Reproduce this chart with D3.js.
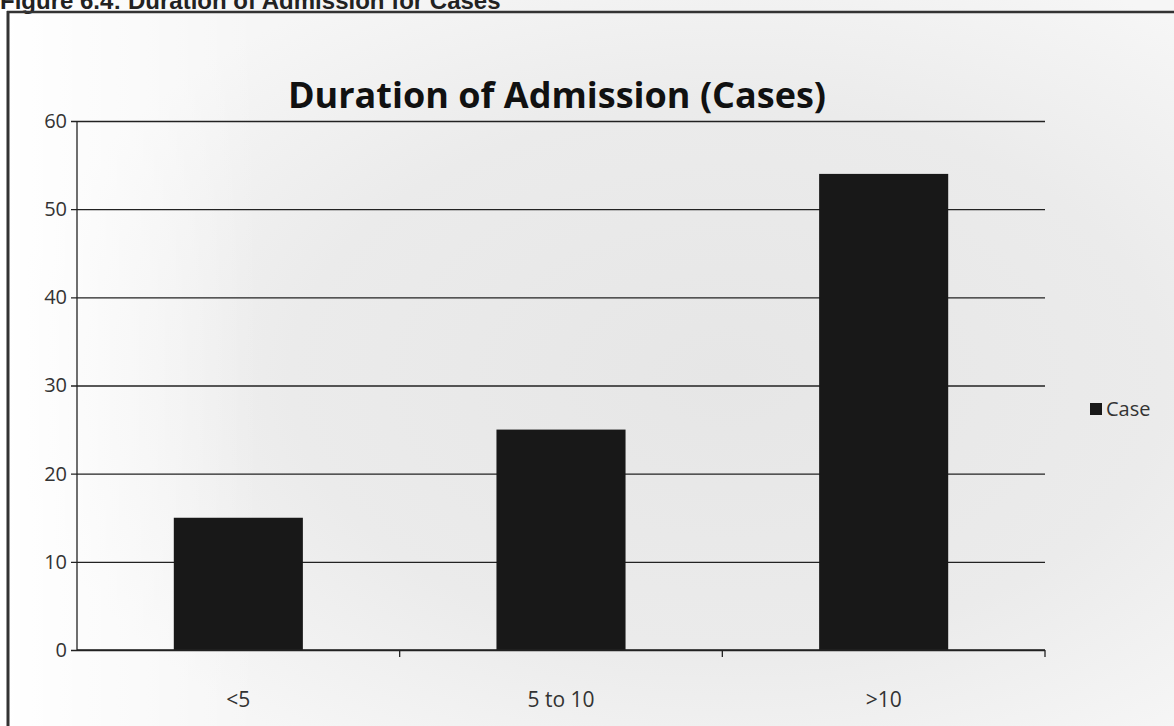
<!DOCTYPE html>
<html>
<head>
<meta charset="utf-8">
<script src="https://cdn.jsdelivr.net/npm/d3@7"></script>
<style>
  html, body { margin: 0; padding: 0; background: #fff; }
  svg { display: block; }
</style>
</head>
<body>
<div id="chart"></div>
<script>
// chart data
const categories = ["<5", "5 to 10", ">10"];
const caseValues = [15, 25, 54];
const yTicks = [0, 10, 20, 30, 40, 50, 60];
const seriesName = "Case";
const chartTitle = "Duration of Admission (Cases)";
const figureCaption = "Figure 6.4: Duration of Admission for Cases";

const W = 1174, H = 726;
const margin = { top: 121, right: 129, bottom: 76, left: 77 };
const innerW = W - margin.left - margin.right;
const innerH = H - margin.top - margin.bottom;

const svg = d3.select("#chart").append("svg")
    .attr("width", W)
    .attr("height", H);

// soft grey scan background
const defs = svg.append("defs");
const bg = defs.append("radialGradient")
    .attr("id", "bg-grad")
    .attr("cx", "62%").attr("cy", "52%").attr("r", "62%");
bg.append("stop").attr("offset", "0%").attr("stop-color", "#e6e6e6");
bg.append("stop").attr("offset", "60%").attr("stop-color", "#ebebeb");
bg.append("stop").attr("offset", "100%").attr("stop-color", "#f6f6f6");

const leftFade = defs.append("linearGradient")
    .attr("id", "left-fade")
    .attr("x1", "0%").attr("x2", "100%");
leftFade.append("stop").attr("offset", "0%").attr("stop-color", "#fff").attr("stop-opacity", 1);
leftFade.append("stop").attr("offset", "100%").attr("stop-color", "#fff").attr("stop-opacity", 0);

svg.append("rect").attr("width", W).attr("height", H).attr("fill", "url(#bg-grad)");
svg.append("rect").attr("width", 260).attr("height", H).attr("fill", "url(#left-fade)");

// caption at the very top (cropped in the scan)
svg.append("text")
    .attr("x", 0)
    .attr("y", 9)
    .attr("font-family", "'Liberation Sans Narrow', 'Liberation Sans', sans-serif")
    .attr("font-weight", "bold")
    .attr("font-size", 24)
    .attr("fill", "#222")
    .text(figureCaption);

// frame
svg.append("line").attr("x1", 7).attr("x2", W).attr("y1", 12).attr("y2", 12)
    .attr("stroke", "#333").attr("stroke-width", 2.5);
svg.append("line").attr("x1", 8).attr("x2", 8).attr("y1", 11).attr("y2", H)
    .attr("stroke", "#333").attr("stroke-width", 3);

// title
svg.append("text")
    .attr("x", 557)
    .attr("y", 108)
    .attr("text-anchor", "middle")
    .attr("font-family", "'Open Sans', sans-serif")
    .attr("font-weight", "bold")
    .attr("font-size", 36)
    .attr("fill", "#111")
    .text(chartTitle);

const g = svg.append("g")
    .attr("transform", `translate(${margin.left},${margin.top})`);

const x = d3.scaleBand()
    .domain(categories)
    .range([0, innerW])
    .paddingInner(0.6)
    .paddingOuter(0.3);

const y = d3.scaleLinear()
    .domain([0, 60])
    .range([innerH, 0]);

// gridlines + y axis
g.append("g")
    .attr("class", "y-axis")
    .call(d3.axisLeft(y).tickValues(yTicks).tickSize(-innerW).tickPadding(10))
    .call(a => a.select(".domain").remove())
    .call(a => a.selectAll("line").attr("stroke", "#222").attr("stroke-width", 1.3)
        .attr("x1", -6))
    .call(a => a.selectAll("text")
        .attr("fill", "#333")
        .attr("font-family", "'Open Sans', sans-serif")
        .attr("font-size", 20));

g.append("line")
    .attr("x1", 0).attr("x2", 0)
    .attr("y1", 0).attr("y2", innerH)
    .attr("stroke", "#222").attr("stroke-width", 1.3);

// bars
g.selectAll(".bar")
    .data(categories.map((c, i) => ({ cat: c, value: caseValues[i] })))
    .enter()
    .append("rect")
    .attr("class", "bar")
    .attr("x", d => x(d.cat))
    .attr("width", x.bandwidth())
    .attr("y", d => y(d.value))
    .attr("height", d => innerH - y(d.value))
    .attr("fill", "#181818");

// x axis
const step = x.step();
const xAxis = g.append("g")
    .attr("class", "x-axis")
    .attr("transform", `translate(0,${innerH})`);
xAxis.append("line")
    .attr("x1", 0).attr("x2", innerW)
    .attr("stroke", "#222").attr("stroke-width", 1.3);
xAxis.selectAll(".xtick")
    .data(d3.range(1, categories.length + 1))
    .enter().append("line")
    .attr("x1", i => i * step).attr("x2", i => i * step)
    .attr("y1", 0).attr("y2", 7)
    .attr("stroke", "#222").attr("stroke-width", 1.3);
xAxis.selectAll(".xlabel")
    .data(categories)
    .enter().append("text")
    .attr("x", d => x(d) + x.bandwidth() / 2)
    .attr("y", 57)
    .attr("text-anchor", "middle")
    .attr("fill", "#333")
    .attr("font-family", "'Open Sans', sans-serif")
    .attr("font-size", 21)
    .text(d => d);

// legend
const legend = svg.append("g").attr("transform", "translate(1090,403)");
legend.append("rect").attr("width", 12).attr("height", 12).attr("fill", "#181818");
legend.append("text")
    .attr("x", 16).attr("y", 13)
    .attr("fill", "#333")
    .attr("font-family", "'Open Sans', sans-serif")
    .attr("font-size", 20)
    .text(seriesName);
</script>
</body>
</html>
